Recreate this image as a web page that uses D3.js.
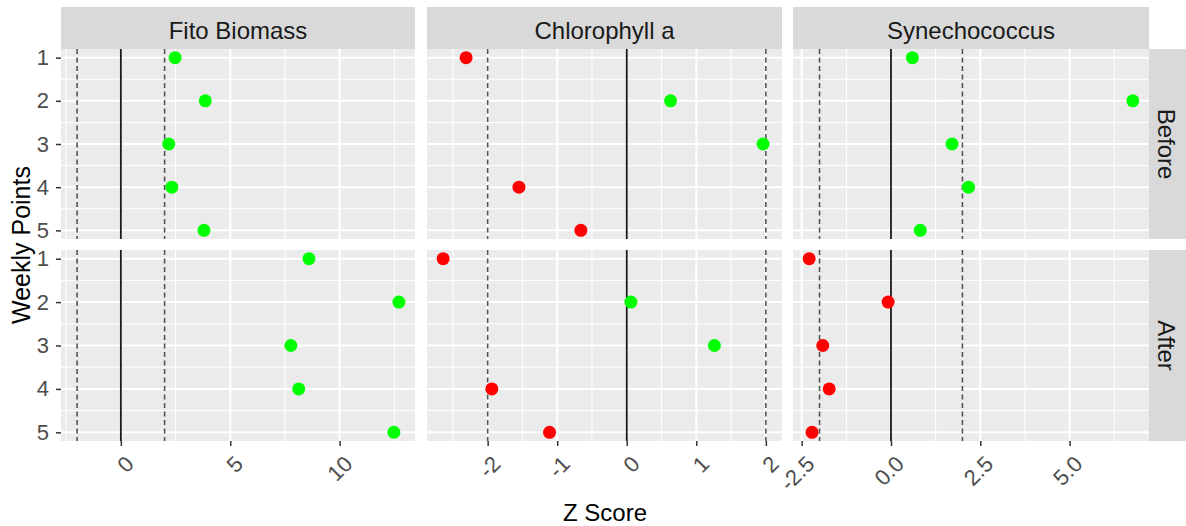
<!DOCTYPE html>
<html>
<head>
<meta charset="utf-8">
<script src="https://cdn.jsdelivr.net/npm/d3@7"></script>
<style>
  html, body { margin: 0; padding: 0; background: #ffffff; }
  svg { display: block; }
  text { font-family: "Liberation Sans", Arial, sans-serif; }
</style>
</head>
<body>
<svg id="chart" width="1186" height="526"></svg>
<script>
// ---- data ----
const facets = ["Fito Biomass", "Chlorophyll a", "Synechococcus"];
const periods = ["Before", "After"];
const weeks = [1, 2, 3, 4, 5];
const fitoBefore = [2.48, 3.86, 2.19, 2.33, 3.80];
const fitoAfter  = [8.60, 12.71, 7.77, 8.13, 12.48];
const chlBefore  = [-2.31, 0.63, 1.96, -1.55, -0.66];
const chlAfter   = [-2.64, 0.06, 1.26, -1.94, -1.11];
const synBefore  = [0.60, 6.77, 1.71, 2.17, 0.82];
const synAfter   = [-2.29, -0.08, -1.91, -1.73, -2.21];
const refDashed = [-2, 2];
const refSolid = [0];
const fitoTicks = [0, 5, 10];
const chlTicks = [-2, -1, 0, 1, 2];
const synTicks = [-2.5, 0, 2.5, 5];
const yTicks = [1, 2, 3, 4, 5];
const xTitle = "Z Score";
const yTitle = "Weekly Points";

const seriesValues = [
  [fitoBefore, fitoAfter],
  [chlBefore, chlAfter],
  [synBefore, synAfter]
];
const tickSets = [fitoTicks, chlTicks, synTicks];
const hy = f => (d => f(d).replace("\u2212", "-"));
const tickFormats = [hy(d3.format("d")), hy(d3.format("d")), hy(d3.format(".1f"))];

// ---- layout ----
const colX = [[61, 415], [427, 782], [793, 1149]];
const rowY = [[49, 239], [250, 441]];
const stripTop = 7;
const stripRight = 1186;

const svg = d3.select("#chart");

function expand(ext, m) {
  const w = ext[1] - ext[0];
  return [ext[0] - w * m, ext[1] + w * m];
}

const y = d3.scaleLinear().domain(expand([1, 5], 0.05)).range([0, 1]);

facets.forEach((facet, ci) => {
  const all = seriesValues[ci][0].concat(seriesValues[ci][1], refDashed, refSolid);
  const x = d3.scaleLinear()
    .domain(expand(d3.extent(all), 0.05))
    .range(colX[ci]);
  const ticks = tickSets[ci];
  const step = ticks[1] - ticks[0];
  const dom = x.domain();
  const minor = [];
  for (let v = ticks[0] - step / 2; v <= dom[1]; v += step) {
    if (v >= dom[0]) minor.push(v);
  }
  const majors = [];
  for (let v = ticks[0] - step; v <= dom[1] + 1e-9; v += step) {
    if (v >= dom[0]) majors.push(+v.toFixed(6));
  }

  // top strip
  svg.append("rect")
    .attr("x", colX[ci][0]).attr("y", stripTop)
    .attr("width", colX[ci][1] - colX[ci][0]).attr("height", rowY[0][0] - stripTop)
    .attr("fill", "#D9D9D9");
  svg.append("text")
    .attr("x", (colX[ci][0] + colX[ci][1]) / 2).attr("y", 39)
    .attr("text-anchor", "middle")
    .attr("font-size", 24).attr("fill", "#1A1A1A")
    .text(facet);

  periods.forEach((period, ri) => {
    const [y0, y1] = rowY[ri];
    const yy = y.copy().range([y0, y1]);
    const g = svg.append("g");
    g.append("rect")
      .attr("x", colX[ci][0]).attr("y", y0)
      .attr("width", colX[ci][1] - colX[ci][0]).attr("height", y1 - y0)
      .attr("fill", "#EBEBEB");
    // minor grid
    g.selectAll(".mx").data(minor).join("line")
      .attr("x1", d => x(d)).attr("x2", d => x(d))
      .attr("y1", y0).attr("y2", y1)
      .attr("stroke", "#ffffff").attr("stroke-width", 1);
    const yMinor = d3.range(1.5, 5, 1);
    g.selectAll(".my").data(yMinor).join("line")
      .attr("x1", colX[ci][0]).attr("x2", colX[ci][1])
      .attr("y1", d => yy(d)).attr("y2", d => yy(d))
      .attr("stroke", "#ffffff").attr("stroke-width", 1);
    // major grid
    g.selectAll(".Mx").data(majors).join("line")
      .attr("x1", d => x(d)).attr("x2", d => x(d))
      .attr("y1", y0).attr("y2", y1)
      .attr("stroke", "#ffffff").attr("stroke-width", 2);
    g.selectAll(".My").data(yTicks).join("line")
      .attr("x1", colX[ci][0]).attr("x2", colX[ci][1])
      .attr("y1", d => yy(d)).attr("y2", d => yy(d))
      .attr("stroke", "#ffffff").attr("stroke-width", 2);
    // reference lines
    g.selectAll(".ref0").data(refSolid).join("line")
      .attr("x1", d => x(d)).attr("x2", d => x(d))
      .attr("y1", y0).attr("y2", y1)
      .attr("stroke", "#1a1a1a").attr("stroke-width", 1.8);
    g.selectAll(".refd").data(refDashed).join("line")
      .attr("x1", d => x(d)).attr("x2", d => x(d))
      .attr("y1", y0).attr("y2", y1)
      .attr("stroke", "#555555").attr("stroke-width", 1.6)
      .attr("stroke-dasharray", "5,3.5");
    // points
    const vals = seriesValues[ci][ri];
    g.selectAll(".pt").data(weeks.map((w, i) => ({w, v: vals[i]}))).join("circle")
      .attr("cx", d => x(d.v)).attr("cy", d => yy(d.w))
      .attr("r", 6.5)
      .attr("fill", d => d.v > 0 ? "#00FF00" : "#FF0000");

    // y axis on first column
    if (ci === 0) {
      const ax = svg.append("g").attr("transform", `translate(${colX[0][0]},0)`)
        .call(d3.axisLeft(yy).tickValues(yTicks).tickSize(5).tickPadding(7).tickFormat(d3.format("d")));
      ax.select(".domain").remove();
      ax.selectAll(".tick line").attr("stroke", "#333333").attr("stroke-width", 1.5);
      ax.selectAll(".tick text").attr("font-size", 22).attr("fill", "#4D4D4D")
        .attr("font-family", "Liberation Sans, Arial, sans-serif");
    }
    // right strip
    if (ci === facets.length - 1) {
      svg.append("rect")
        .attr("x", colX[ci][1]).attr("y", y0)
        .attr("width", stripRight - colX[ci][1]).attr("height", y1 - y0)
        .attr("fill", "#D9D9D9");
      const cx = colX[ci][1] + 9, cy = (y0 + y1) / 2;
      svg.append("text")
        .attr("transform", `translate(${cx},${cy}) rotate(90)`)
        .attr("text-anchor", "middle")
        .attr("font-size", 24).attr("fill", "#1A1A1A")
        .text(period);
    }
  });

  // x axis at bottom
  const bottom = rowY[1][1];
  const ax = svg.append("g").attr("transform", `translate(0,${bottom})`)
    .call(d3.axisBottom(x).tickValues(ticks).tickSize(5).tickFormat(tickFormats[ci]));
  ax.select(".domain").remove();
  ax.selectAll(".tick line").attr("stroke", "#333333").attr("stroke-width", 1.5);
  ax.selectAll(".tick text")
    .attr("font-size", 22).attr("fill", "#4D4D4D")
    .attr("font-family", "Liberation Sans, Arial, sans-serif")
    .attr("text-anchor", "end")
    .attr("dy", null)
    .attr("dominant-baseline", "central")
    .attr("x", 0).attr("y", 0)
    .attr("transform", "translate(8.5,19) rotate(-45)");
});

// axis titles
svg.append("text")
  .attr("x", (colX[0][0] + colX[2][1]) / 2).attr("y", 521)
  .attr("text-anchor", "middle").attr("font-size", 24).attr("fill", "#000")
  .text(xTitle);
svg.append("text")
  .attr("transform", `translate(30,${(rowY[0][0] + rowY[1][1]) / 2}) rotate(-90)`)
  .attr("text-anchor", "middle").attr("font-size", 25).attr("fill", "#000")
  .text(yTitle);
</script>
</body>
</html>
